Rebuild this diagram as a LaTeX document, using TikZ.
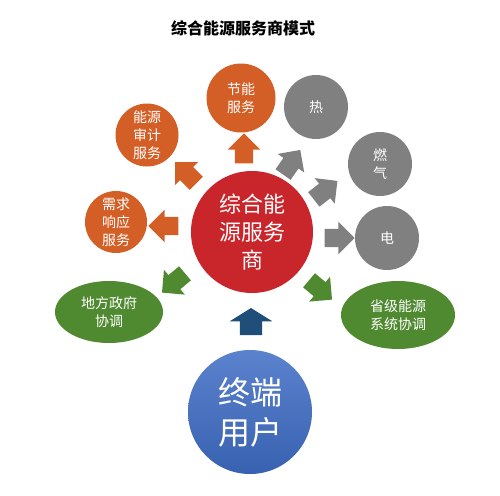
\documentclass[tikz,border=0pt]{standalone}
\usepackage{fontspec}
\setmainfont{Noto Sans CJK SC}
\usetikzlibrary{shapes.arrows,shapes.geometric}
\definecolor{corange}{HTML}{D35F27}
\definecolor{cgray}{HTML}{808080}
\definecolor{cgreen}{HTML}{4F8A30}
\definecolor{cred}{HTML}{C8262B}
\definecolor{cblue}{HTML}{3E6CC4}
\definecolor{cdarkblue}{HTML}{1F4E79}
\tikzset{
  bubble/.style={circle, text=white, align=center, inner sep=0pt,
    font=\fontsize{14}{18}\selectfont},
  oval/.style={ellipse, fill=cgreen, text=white, align=center, inner sep=0pt,
    font=\fontsize{14}{18}\selectfont},
  blockarrow/.style={single arrow, inner xsep=0pt, inner ysep=9pt,
    minimum height=30pt, minimum width=32pt, single arrow head extend=7pt,
    single arrow tip angle=90, draw=none, text width=0pt}
}
\begin{document}
\begin{tikzpicture}[x=1pt,y=-1pt]
\useasboundingbox[fill=white] (0,0) rectangle (500,495);
\node[font=\fontsize{16}{18}\selectfont\bfseries] (title) at (243,28) {综合能源服务商模式};
% center
\node[circle, fill=cred, minimum size=122pt, inner sep=0pt, text=white, align=center,
  font=\fontsize{22}{28}\selectfont] (core) at (252,232) {综合能\\源服务\\商};
% orange
\node[bubble, fill=corange, minimum size=69pt] (jn) at (241,98) {节能\\服务};
\node[bubble, fill=corange, minimum size=63pt] (sj) at (147,135) {能源\\审计\\服务};
\node[bubble, fill=corange, minimum size=62pt] (xq) at (116,222) {需求\\响应\\服务};
% gray
\node[bubble, fill=cgray, minimum size=64pt] (re) at (316,107) {热};
\node[bubble, fill=cgray, minimum size=64pt] (rq) at (380,164) {燃\\气};
\node[bubble, fill=cgray, minimum size=64pt] (dian) at (387,238) {电};
% green
\node[oval, minimum width=108pt, minimum height=62pt] (df) at (109,312) {地方政府\\协调};
\node[oval, minimum width=114pt, minimum height=68pt] (sheng) at (398,315) {省级能源\\系统协调};
% user
\node[circle, inner sep=0pt, minimum size=124pt, top color=cblue!85!white, bottom color=cblue!90!black,
  text=white, align=center, font=\fontsize{32}{40}\selectfont] (user) at (250,412) {终端\\用户};
% arrows
\node[blockarrow, fill=corange, rotate=90] (a1) at (244,153) {};
\node[blockarrow, fill=corange, rotate=135] (a2) at (189,176) {};
\node[blockarrow, fill=corange, rotate=180] (a3) at (168,226) {};
\node[blockarrow, fill=cgray, rotate=55] (a4) at (289,166) {};
\node[blockarrow, fill=cgray, rotate=38] (a5) at (322,193) {};
\node[blockarrow, fill=cgray, rotate=0] (a6) at (335,238) {};
\node[blockarrow, fill=cgreen, rotate=220] (a7) at (177,280) {};
\node[blockarrow, fill=cgreen, rotate=-40] (a8) at (317,287) {};
\node[blockarrow, fill=cdarkblue, rotate=90, inner ysep=11pt, minimum width=42pt,
  single arrow head extend=10pt, single arrow tip angle=116, minimum height=27pt] (a9) at (251,325) {};
\end{tikzpicture}
\end{document}
